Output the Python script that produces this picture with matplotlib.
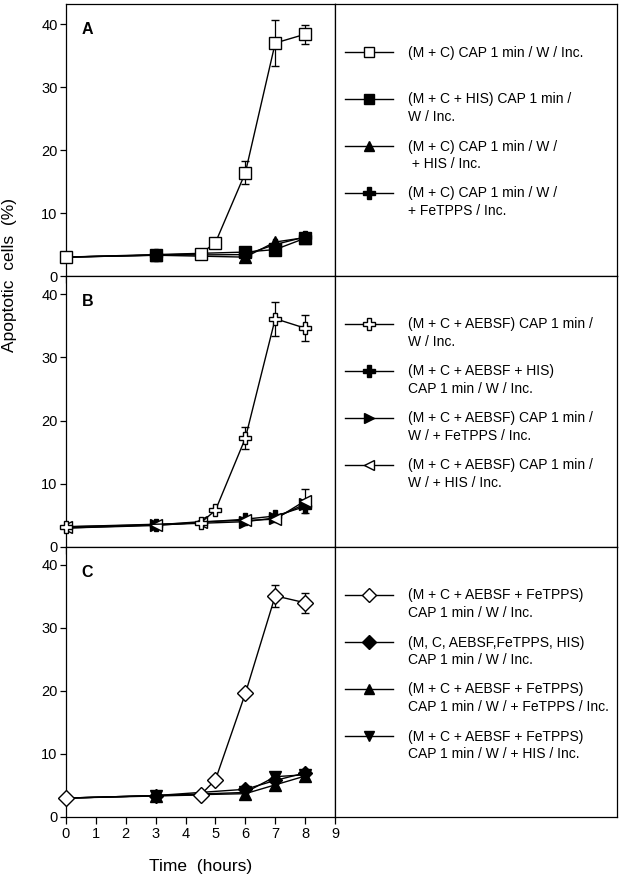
import matplotlib
matplotlib.use("Agg")
import matplotlib.pyplot as plt
from matplotlib.lines import Line2D

plt.rcParams['font.family'] = ['Liberation Sans', 'DejaVu Sans']

# 时间点 (hours)
t_open = [0, 4.5, 5, 6, 7, 8]
t_filled = [0, 3, 6, 7, 8]

# Panel A
a_open = [3.0, 3.5, 5.3, 16.4, 37.0, 38.4]
a_open_err = [0, 0, 0, 1.8, 3.6, 1.5]
a_his = [3.0, 3.4, 3.8, 4.2, 6.0]
a_his_tri = [3.0, 3.3, 3.0, 5.4, 6.1]
a_fetpps = [3.0, 3.3, 3.4, 5.0, 6.2]

# Panel B
b_open = [3.2, 3.8, 5.8, 17.2, 36.1, 34.6]
b_open_err = [0, 0, 0, 1.7, 2.7, 2.1]
b_his = [3.0, 3.4, 4.4, 4.9, 6.4]
b_fetpps = [3.0, 3.5, 4.0, 4.6, 6.8]
b_t_left = [0, 3, 4.5, 6, 7, 8]
b_his_left = [3.2, 3.5, 4.0, 4.2, 4.4, 7.3]
b_his_left_err = [0, 0, 0, 0, 0, 1.9]

# Panel C
c_open = [3.0, 3.5, 5.9, 19.6, 35.1, 34.0]
c_open_err = [0, 0, 0, 0, 1.7, 1.6]
c_his = [3.0, 3.4, 4.4, 5.8, 7.0]
c_fetpps = [3.0, 3.4, 3.7, 5.1, 6.5]
c_his_down = [3.0, 3.4, 3.9, 6.4, 6.7]

legend_a = ["(M + C) CAP 1 min / W / Inc.",
            "(M + C + HIS) CAP 1 min /\nW / Inc.",
            "(M + C) CAP 1 min / W /\n + HIS / Inc.",
            "(M + C) CAP 1 min / W /\n+ FeTPPS / Inc."]
legend_b = ["(M + C + AEBSF) CAP 1 min /\nW / Inc.",
            "(M + C + AEBSF + HIS)\nCAP 1 min / W / Inc.",
            "(M + C + AEBSF) CAP 1 min /\nW / + FeTPPS / Inc.",
            "(M + C + AEBSF) CAP 1 min /\nW / + HIS / Inc."]
legend_c = ["(M + C + AEBSF + FeTPPS)\nCAP 1 min / W / Inc.",
            "(M, C, AEBSF,FeTPPS, HIS)\nCAP 1 min / W / Inc.",
            "(M + C + AEBSF + FeTPPS)\nCAP 1 min / W / + FeTPPS / Inc.",
            "(M + C + AEBSF + FeTPPS)\nCAP 1 min / W / + HIS / Inc."]

W, H = 624, 881
fig = plt.figure(figsize=(W / 100, H / 100), dpi=100)


def px_axes(x0, y0, x1, y1):
    return fig.add_axes([x0 / W, 1 - y1 / H, (x1 - x0) / W, (y1 - y0) / H])


def style(mk, face):
    return dict(marker=mk, markerfacecolor=face, markeredgecolor='black',
                markeredgewidth=1.0)


# 每个面板: (曲线列表, 图例标记, 图例文字, 字母, 上边界y像素, 下边界y像素, y上限)
# 空心曲线放在最后画，盖在实心点上面
panels = [
    ([(t_filled, a_fetpps, None, 'P', 'black', 9),
      (t_filled, a_his_tri, None, '^', 'black', 8),
      (t_filled, a_his, None, 's', 'black', 8),
      (t_open, a_open, a_open_err, 's', 'white', 8)],
     [('s', 'white', 7.5), ('s', 'black', 7.5), ('^', 'black', 7.5), ('P', 'black', 8.5)],
     legend_a, "A", 4, 276, 43.2),
    ([(t_filled, b_fetpps, None, '>', 'black', 8),
      (t_filled, b_his, None, 'P', 'black', 9),
      (b_t_left, b_his_left, b_his_left_err, '<', 'white', 8),
      (t_open, b_open, b_open_err, 'P', 'white', 9)],
     [('P', 'white', 8.5), ('P', 'black', 8.5), ('>', 'black', 7.5), ('<', 'white', 7.5)],
     legend_b, "B", 276, 547, 42.85),
    ([(t_filled, c_his_down, None, 'v', 'black', 8),
      (t_filled, c_fetpps, None, '^', 'black', 8),
      (t_filled, c_his, None, 'D', 'black', 7.5),
      (t_open, c_open, c_open_err, 'D', 'white', 8)],
     [('D', 'white', 7), ('D', 'black', 7), ('^', 'black', 7.5), ('v', 'black', 7.5)],
     legend_c, "C", 547, 817, 42.85),
]

for i, (series, leg_marks, leg_text, letter, ytop, ybot, ymax) in enumerate(panels):
    ax = px_axes(66, ytop, 335, ybot)
    for t, v, err, mk, face, ms in series:
        # t=0 处实心点被空心点挡住
        every = None if face == 'white' else slice(1, None)
        ax.errorbar(t, v, yerr=err, color='black', linewidth=1.0,
                    elinewidth=0.9, capsize=3, capthick=0.9, clip_on=False,
                    ms=ms, markevery=every, zorder=3, **style(mk, face))
    ax.set_xlim(0, 9)
    ax.set_ylim(0, ymax)
    ax.set_xticks(range(10))
    ax.set_yticks([0, 10, 20, 30, 40])
    ax.tick_params(direction='out', length=4, width=0.9, labelsize=10.5, pad=2)
    ax.tick_params(axis='x', length=5)
    for s in ax.spines.values():
        s.set_linewidth(0.9)
    if i < 2:
        ax.tick_params(axis='x', labelbottom=False)
    else:
        ax.set_xlabel("Time  (hours)", fontsize=12.5, labelpad=13)
    ax.text(0.08, 0.905, letter, transform=ax.transAxes, fontsize=11.5,
            fontweight='bold', ha='center', va='center')

    # 图例框
    lax = px_axes(335, ytop, 617, ybot)
    lax.set_xlim(335, 617)
    lax.set_ylim(ybot, ytop)
    lax.set_xticks([])
    lax.set_yticks([])
    for s in lax.spines.values():
        s.set_linewidth(0.9)
    row0 = ytop + 48
    for j, ((mk, face, ms), txt) in enumerate(zip(leg_marks, leg_text)):
        yy = row0 + 47 * j
        lax.add_line(Line2D([345, 393], [yy, yy], color='black', linewidth=1.0))
        lax.add_line(Line2D([369], [yy], ms=ms, color='black', **style(mk, face)))
        lax.text(408, yy - 6.5, txt, fontsize=10, ha='left', va='top',
                 linespacing=1.3)

fig.text(10 / W, 1 - 275 / H, "Apoptotic  cells  (%)", rotation=90,
         fontsize=12.5, ha='center', va='center')

fig.savefig("out.png", dpi=100)
